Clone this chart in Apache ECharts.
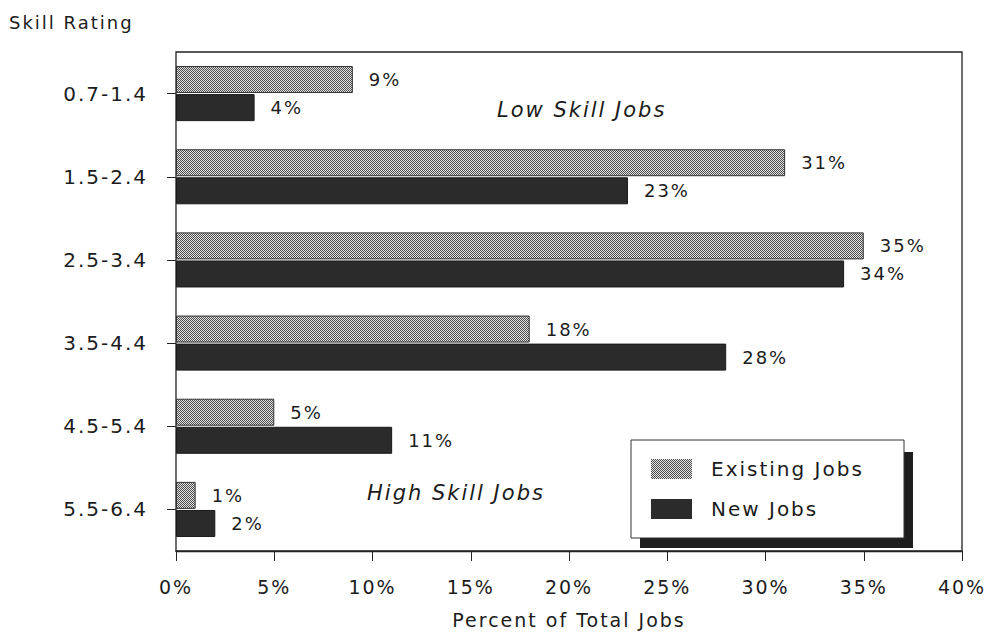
<!DOCTYPE html>
<html>
<head>
<meta charset="utf-8">
<title>Skill Rating of Existing and New Jobs</title>
<script src="https://cdn.jsdelivr.net/npm/echarts@6/dist/echarts.min.js"></script>
<style>
  html, body { margin: 0; padding: 0; background: #ffffff; }
  #chart { width: 988px; height: 634px; }
  /* typewriter-like wide spacing of the lettering */
  #chart text { letter-spacing: 2px; }
</style>
</head>
<body>
<div id="chart"></div>
<script>
// Skill rating bands, from low skill (top) to high skill (bottom)
const skillBands = ['0.7-1.4', '1.5-2.4', '2.5-3.4', '3.5-4.4', '4.5-5.4', '5.5-6.4'];
// Share of total jobs in each band, percent
const existingJobs = [9, 31, 35, 18, 5, 1];
const newJobs = [4, 23, 34, 28, 11, 2];
// Percent axis
const percentMin = 0;
const percentMax = 40;
const percentStep = 5;

const FONT = 'DejaVu Sans';
const INK = '#1c1c1c';

// Fine cross-hatched screen for the existing-jobs bars
function hatchCanvas() {
  const c = document.createElement('canvas');
  c.width = 4; c.height = 4;
  const g = c.getContext('2d');
  g.fillStyle = '#e6e6e6';
  g.fillRect(0, 0, 4, 4);
  g.fillStyle = '#4a4a4a';
  for (let y = 0; y < 4; y++) {
    for (let x = 0; x < 4; x++) {
      if ((x + y) % 2 === 0) g.fillRect(x, y, 1, 1);
    }
  }
  return c;
}
const hatch = { image: hatchCanvas(), repeat: 'repeat', imageWidth: 4, imageHeight: 4 };

const chart = echarts.init(document.getElementById('chart'), null, { renderer: 'svg' });

chart.setOption({
  animation: false,
  backgroundColor: '#ffffff',
  textStyle: { fontFamily: FONT, color: INK },
  grid: {
    left: 176, right: 26, top: 52, bottom: 77,
    show: true, borderColor: '#222222', borderWidth: 1.3, backgroundColor: 'transparent'
  },
  legend: {
    orient: 'vertical',
    left: 651, top: 459,
    itemWidth: 41, itemHeight: 20, itemGap: 20,
    padding: 0, z: 10,
    icon: 'rect',
    selectedMode: false,
    itemStyle: { borderWidth: 0 },
    textStyle: { fontFamily: FONT, fontSize: 20, color: INK, padding: [0, 0, 0, 14] },
    data: ['Existing Jobs', 'New Jobs']
  },
  xAxis: {
    type: 'value',
    min: percentMin, max: percentMax, interval: percentStep,
    name: 'Percent of Total Jobs',
    nameLocation: 'middle',
    nameGap: 59,
    nameTextStyle: { fontFamily: FONT, fontSize: 19, color: INK },
    axisLine: { show: true, lineStyle: { color: '#222222', width: 1.3 } },
    axisTick: { show: true, length: 10, inside: false, lineStyle: { color: '#222222' } },
    axisLabel: { formatter: '{value}%', fontSize: 19, color: INK, margin: 26 },
    splitLine: { show: false }
  },
  yAxis: {
    type: 'category',
    inverse: true,
    data: skillBands,
    axisLine: { show: false },
    axisTick: { show: true, length: 9, alignWithLabel: true, lineStyle: { color: '#222222' } },
    axisLabel: { fontSize: 20, color: INK, margin: 28 },
    splitLine: { show: false }
  },
  graphic: [
    { type: 'text', left: 9, top: 13,
      style: { text: 'Skill Rating', font: '18px "DejaVu Sans"', fill: INK } },
    { type: 'text', left: 497, top: 99,
      style: { text: 'Low Skill Jobs', font: 'italic 21px "DejaVu Sans"', fill: INK } },
    { type: 'text', left: 367, top: 482,
      style: { text: 'High Skill Jobs', font: 'italic 21px "DejaVu Sans"', fill: INK } },
    // legend frame with its drop shadow
    { type: 'rect', z: 5, shape: { x: 640, y: 452, width: 273, height: 96 },
      style: { fill: '#1e1e1e' } },
    { type: 'rect', z: 6, shape: { x: 631, y: 440, width: 273, height: 98 },
      style: { fill: '#ffffff', stroke: '#333333', lineWidth: 1 } }
  ],
  series: [
    {
      name: 'Existing Jobs',
      type: 'bar',
      data: existingJobs,
      barWidth: 27,
      barGap: '4%',
      itemStyle: { color: hatch, borderColor: '#333333', borderWidth: 1 },
      label: { show: true, position: 'right', distance: 16, formatter: '{c}%',
               fontFamily: FONT, fontSize: 18, color: INK }
    },
    {
      name: 'New Jobs',
      type: 'bar',
      data: newJobs,
      barWidth: 27,
      itemStyle: { color: '#2b2b2b', borderColor: '#1a1a1a', borderWidth: 1 },
      label: { show: true, position: 'right', distance: 16, formatter: '{c}%',
               fontFamily: FONT, fontSize: 18, color: INK }
    }
  ]
});
</script>
</body>
</html>
